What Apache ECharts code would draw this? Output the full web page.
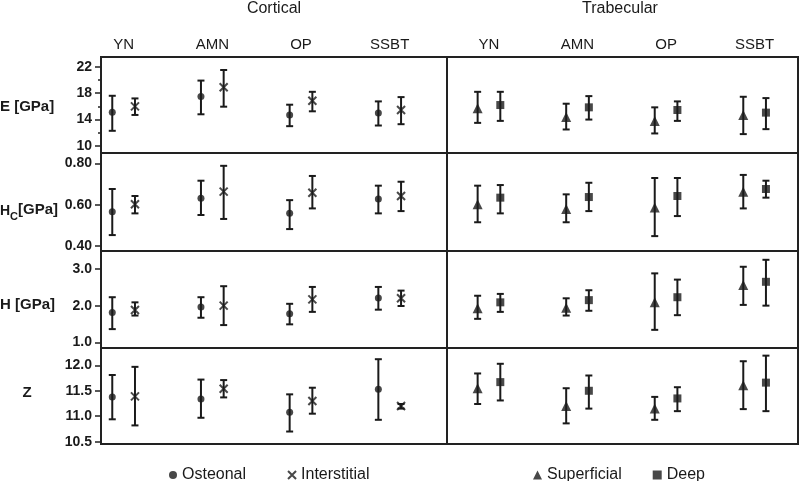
<!DOCTYPE html>
<html>
<head>
<meta charset="utf-8">
<script src="https://cdn.jsdelivr.net/npm/echarts@6/dist/echarts.min.js"></script>
<style>
html,body{margin:0;padding:0;background:#fff;}
#chart{width:800px;height:481px;}
</style>
</head>
<body>
<div id="chart"></div>
<script>
// ---------------- DATA ----------------
const groups = ['YN', 'AMN', 'OP', 'SSBT'];
const panelTitles = ['Cortical', 'Trabecular'];
const cortSeriesNames = ['Osteonal', 'Interstitial'];
const trabSeriesNames = ['Superficial', 'Deep'];

// tick labels per row
const eTickLabels = ['10', '14', '18', '22'];
const eMinorTicks = [12, 16, 20];
const hcTickLabels = ['0.40', '0.60', '0.80'];
const hTickLabels = ['1.0', '2.0', '3.0'];
const zTickLabels = ['10.5', '11.0', '11.5', '12.0'];

// values per group: [mean, lower, upper]
const eOsteonal     = [[15.1, 12.3, 17.6], [17.5, 14.8, 19.9], [14.7, 13.0, 16.25], [15.0, 13.1, 16.75]];
const eInterstitial = [[16.0, 14.7, 17.2], [18.9, 15.95, 21.5], [16.85, 15.25, 18.2], [15.45, 13.3, 17.4]];
const eSuperficial  = [[15.7, 13.5, 18.2], [14.4, 12.5, 16.4], [13.8, 11.9, 15.85], [14.7, 11.8, 17.45]];
const eDeep         = [[16.2, 13.8, 18.2], [15.85, 14.0, 17.55], [15.45, 13.8, 16.75], [15.05, 12.55, 17.25]];

const hcOsteonal     = [[0.566, 0.453, 0.676], [0.631, 0.550, 0.716], [0.558, 0.482, 0.622], [0.627, 0.558, 0.692]];
const hcInterstitial = [[0.602, 0.558, 0.642], [0.663, 0.531, 0.788], [0.658, 0.582, 0.739], [0.642, 0.569, 0.711]];
const hcSuperficial  = [[0.602, 0.515, 0.692], [0.579, 0.515, 0.650], [0.587, 0.448, 0.729], [0.663, 0.582, 0.744]];
const hcDeep         = [[0.634, 0.558, 0.695], [0.637, 0.569, 0.706], [0.642, 0.545, 0.729], [0.676, 0.634, 0.716]];

const hOsteonal     = [[1.81, 1.36, 2.23], [1.96, 1.67, 2.23], [1.78, 1.49, 2.05], [2.21, 1.89, 2.51]];
const hInterstitial = [[1.88, 1.73, 2.09], [2.00, 1.47, 2.53], [2.17, 1.83, 2.51], [2.20, 1.99, 2.41]];
const hSuperficial  = [[1.93, 1.64, 2.27], [1.94, 1.73, 2.20], [2.09, 1.34, 2.88], [2.56, 2.02, 3.06]];
const hDeep         = [[2.09, 1.83, 2.32], [2.15, 1.86, 2.42], [2.23, 1.74, 2.71], [2.65, 2.00, 3.25]];

const zOsteonal     = [[11.38, 10.94, 11.81], [11.34, 10.97, 11.72], [11.08, 10.70, 11.43], [11.53, 10.93, 12.12]];
const zInterstitial = [[11.39, 10.82, 11.97], [11.54, 11.37, 11.71], [11.30, 11.05, 11.56], [11.20, 11.15, 11.24]];
const zSuperficial  = [[11.55, 11.24, 11.84], [11.20, 10.86, 11.55], [11.15, 10.93, 11.38], [11.61, 11.14, 12.08]];
const zDeep         = [[11.67, 11.31, 12.03], [11.50, 11.15, 11.80], [11.35, 11.10, 11.57], [11.66, 11.10, 12.19]];

// ---------------- LAYOUT / STYLE ----------------
const FONT = 'Liberation Sans, Arial, sans-serif';
const INK = '#1a1a1a';
const colLeft = [101, 447], colWidth = [346, 351];
const rowTop = [57, 153, 251, 348], rowHeight = [96, 98, 97, 96];
const xMin = [-0.255, -0.474], xMax = [3.646, 3.49];
const yMin = [8.94, 0.376, 0.845, 10.455], yMax = [23.47, 0.850, 3.49, 12.34];
const pairOffset = 0.128;

const rows = [
  { ticks: eTickLabels, data: [[eOsteonal, eInterstitial], [eSuperficial, eDeep]] },
  { ticks: hcTickLabels, data: [[hcOsteonal, hcInterstitial], [hcSuperficial, hcDeep]] },
  { ticks: hTickLabels, data: [[hOsteonal, hInterstitial], [hSuperficial, hDeep]] },
  { ticks: zTickLabels, data: [[zOsteonal, zInterstitial], [zSuperficial, zDeep]] }
];

const symbolStyles = {
  Osteonal: { symbol: 'circle', symbolSize: 7, itemStyle: { color: INK } },
  Interstitial: { symbol: 'path://M0,0L10,10M10,0L0,10', symbolSize: 8,
                  itemStyle: { color: 'rgba(0,0,0,0)', borderColor: INK, borderWidth: 2 } },
  Superficial: { symbol: 'triangle', symbolSize: [10, 10], itemStyle: { color: INK } },
  Deep: { symbol: 'rect', symbolSize: 8, itemStyle: { color: INK } }
};

const grids = [], xAxes = [], yAxes = [], series = [];

function errRender(params, api) {
  const x = api.value(0), lo = api.value(1), hi = api.value(2);
  const a = api.coord([x, lo]), b = api.coord([x, hi]);
  const w = 3.5;
  const st = { stroke: INK, lineWidth: 2 };
  return {
    type: 'group',
    children: [
      { type: 'line', shape: { x1: a[0], y1: a[1], x2: b[0], y2: b[1] }, style: st },
      { type: 'line', shape: { x1: a[0] - w, y1: a[1], x2: a[0] + w, y2: a[1] }, style: st },
      { type: 'line', shape: { x1: b[0] - w, y1: b[1], x2: b[0] + w, y2: b[1] }, style: st }
    ]
  };
}

for (let r = 0; r < 4; r++) {
  for (let c = 0; c < 2; c++) {
    const g = r * 2 + c;
    grids.push({
      left: colLeft[c], top: rowTop[r], width: colWidth[c], height: rowHeight[r],
      show: true, borderColor: '#222', borderWidth: 2, backgroundColor: 'rgba(0,0,0,0)'
    });
    xAxes.push({
      gridIndex: g, type: 'value', min: xMin[c], max: xMax[c],
      position: 'top', show: r === 0,
      axisLine: { show: false, onZero: false }, axisTick: { show: false }, splitLine: { show: false },
      axisLabel: {
        show: r === 0, customValues: groups.map((_, i) => i),
        formatter: v => groups[Math.round(v)] || '',
        fontFamily: FONT, fontSize: 15, color: INK, margin: 5
      }
    });
    const tickLabels = rows[r].ticks;
    const tickVals = tickLabels.map(Number);
    yAxes.push({
      gridIndex: g, type: 'value', min: yMin[r], max: yMax[r],
      show: c === 0, position: 'left',
      axisLine: { show: false, onZero: false }, splitLine: { show: false },
      axisTick: { show: c === 0, length: 6, customValues: tickVals, lineStyle: { color: '#222', width: 1.5 } },
      axisLabel: {
        show: c === 0, customValues: tickVals,
        formatter: v => {
          let best = 0;
          tickVals.forEach((t, i) => { if (Math.abs(t - v) < Math.abs(tickVals[best] - v)) best = i; });
          return tickLabels[best];
        },
        fontFamily: FONT, fontSize: 14, fontWeight: 'bold', color: INK, margin: 9
      }
    });
    const names = c === 0 ? cortSeriesNames : trabSeriesNames;
    for (let k = 0; k < 2; k++) {
      const vals = rows[r].data[c][k];
      const dx = k === 0 ? -pairOffset : pairOffset;
      series.push({
        name: 'err-' + names[k], type: 'custom', xAxisIndex: g, yAxisIndex: g,
        renderItem: errRender, encode: { x: 0, y: [1, 2] },
        data: vals.map((v, i) => [i + dx, v[1], v[2]]), z: 2, silent: true
      });
      series.push(Object.assign({
        name: names[k], type: 'scatter', xAxisIndex: g, yAxisIndex: g,
        data: vals.map((v, i) => [i + dx, v[0]]), z: 3, silent: true
      }, symbolStyles[names[k]]));
    }
  }
}
// minor ticks for E row
yAxes.push({
  gridIndex: 0, type: 'value', min: yMin[0], max: yMax[0], position: 'left',
  axisLine: { show: false, onZero: false }, splitLine: { show: false }, axisLabel: { show: false },
  axisTick: { show: true, length: 3, customValues: eMinorTicks, lineStyle: { color: '#222', width: 1.5 } }
});

const txt = (text, x, y, size, weight, align) => ({
  type: 'text', x: x, y: y, silent: true,
  style: { text: text, font: (weight || 'normal') + ' ' + size + 'px ' + FONT, fill: INK,
           textAlign: align || 'center', textVerticalAlign: 'middle' }
});

const graphics = [
  txt(panelTitles[0], 274, 9, 16),
  txt(panelTitles[1], 620, 9, 16),
  txt('E [GPa]', 0, 107, 15, 'bold', 'left'),
  txt('H', 0, 211, 14, 'bold', 'left'),
  txt('C', 10, 217, 11, 'bold', 'left'),
  txt('[GPa]', 18, 210, 15, 'bold', 'left'),
  txt('H [GPa]', 0, 305, 15, 'bold', 'left'),
  txt('Z', 27, 393, 15, 'bold', 'center')
];

const legendText = { fontFamily: FONT, fontSize: 16, color: INK };
const option = {
  backgroundColor: '#fff',
  animation: false,
  grid: grids, xAxis: xAxes, yAxis: yAxes, series: series,
  graphic: graphics,
  legend: [
    { data: cortSeriesNames, left: 164, top: 462, itemWidth: 8, itemHeight: 8, itemGap: 41,
      textStyle: legendText, selectedMode: false },
    { data: trabSeriesNames, left: 528, top: 462, itemWidth: 9, itemHeight: 9, itemGap: 31,
      textStyle: legendText, selectedMode: false }
  ]
};
const chart = echarts.init(document.getElementById('chart'), null, { renderer: 'canvas' });
chart.setOption(option);
</script>
</body>
</html>
